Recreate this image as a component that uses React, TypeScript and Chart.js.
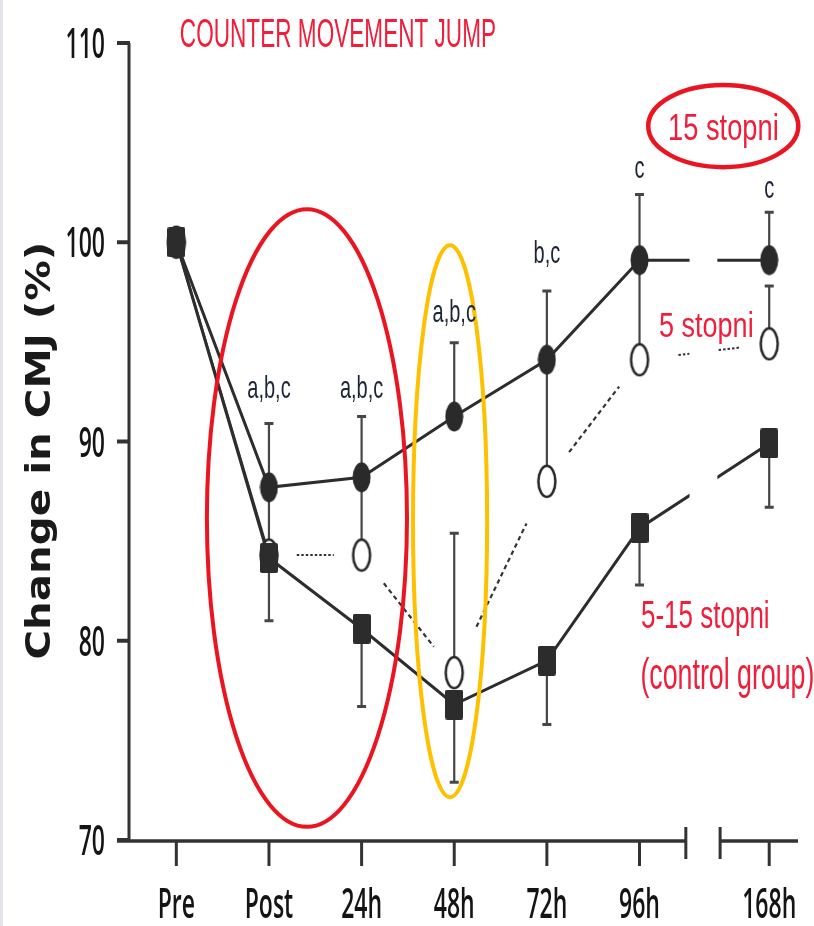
import React, { useEffect, useRef } from 'react';
import { Chart, registerables } from 'chart.js';

Chart.register(...registerables);

// ---------- data ----------
const categories = ['Pre', 'Post', '24h', '48h', '72h', '96h', '168h'];
// position of each category on the (broken) x axis
const axisPositions = [0, 1, 2, 3, 4, 5, 6.4];
const yTicks = [70, 80, 90, 100, 110];

const stopni15 = [100, 87.7, 88.2, 91.25, 94.1, 99.1, 99.1];
const stopni15ErrUp = [0, 3.2, 3.05, 3.7, 3.45, 3.3, 2.4];

const stopni5 = [100, 84.3, 84.3, 78.4, 88.0, 94.1, 94.9];
const stopni5ErrUp = [0, 3.0, 3.7, 7.0, 5.9, 4.5, 2.9];

const control = [100, 84.15, 80.6, 76.8, 79.0, 85.65, 89.9];
const controlErrDown = [0, 3.15, 3.9, 3.9, 3.2, 2.85, 3.2];

const sigLabels = ['', 'a,b,c', 'a,b,c', 'a,b,c', 'b,c', 'c', 'c'];
const sigLabelY = [0, 92.2, 92.2, 96.0, 98.95, 103.2, 102.2];

const axisBreak = [5.5, 5.87];
const dataBreak = [5.54, 5.84];

// ---------- helpers ----------
function fitText(ctx: CanvasRenderingContext2D, text: string, x: number, baseline: number, w: number, h: number,
  font: string, color: string, align: 'left' | 'center' | 'right' = 'left', rotate = 0, weight = 'normal') {
  ctx.save();
  ctx.font = `${weight} 100px ${font}`;
  const m = ctx.measureText(text);
  const inkW = m.actualBoundingBoxLeft + m.actualBoundingBoxRight;
  const sx = w / inkW;
  const sy = h / m.actualBoundingBoxAscent;
  ctx.translate(x, baseline);
  if (rotate) ctx.rotate(rotate);
  ctx.scale(sx, sy);
  ctx.fillStyle = color;
  ctx.textBaseline = 'alphabetic';
  ctx.textAlign = 'left';
  let ox = m.actualBoundingBoxLeft;
  if (align === 'center') ox = m.actualBoundingBoxLeft - inkW / 2;
  if (align === 'right') ox = m.actualBoundingBoxLeft - inkW;
  ctx.fillText(text, ox, 0);
  ctx.restore();
}

function drawStretched(ctx: CanvasRenderingContext2D, text: string, x: number, baseline: number, em: number, sy: number,
  font: string, color: string, align: CanvasTextAlign, weight = 'normal') {
  ctx.save();
  ctx.font = `${weight} ${em}px ${font}`;
  ctx.translate(x, baseline);
  ctx.scale(1, sy);
  ctx.textAlign = align;
  ctx.textBaseline = 'alphabetic';
  ctx.fillStyle = color;
  ctx.fillText(text, 0, 0);
  ctx.restore();
}

function makeCanvas(w: number, h: number, draw: (c: CanvasRenderingContext2D) => void) {
  const c = document.createElement('canvas');
  c.width = w;
  c.height = h;
  const g = c.getContext('2d')!;
  draw(g);
  return c;
}

const TITLE_FONT = '"DejaVu Sans", sans-serif';
const TICK_FONT = '"Open Sans", "DejaVu Sans", sans-serif';
const LABEL_FONT = '"Liberation Sans", Arial, sans-serif';

const chartPlugin = {
  id: 'cmjDecor',
  beforeDraw(chart: any) {
    const { ctx, width, height } = chart;
    ctx.save();
    ctx.fillStyle = '#ffffff';
    ctx.fillRect(0, 0, width, height);
    ctx.fillStyle = '#e2e4e7';
    ctx.fillRect(0, 0, 3, height);
    ctx.restore();
  },
  beforeDatasetsDraw(chart: any) {
    const { ctx, width, height } = chart;
    const xs = chart.scales.x;
    const ys = chart.scales.y;
    const b0 = xs.getPixelForValue(dataBreak[0]);
    const b1 = xs.getPixelForValue(dataBreak[1]);
    ctx.save();
    ctx.beginPath();
    ctx.rect(0, 0, b0, height);
    ctx.rect(b1, 0, width - b1, height);
    ctx.clip();

    // error bars
    const bar = (i: number, v: number, e: number, dir: number) => {
      if (!e) return;
      const x = xs.getPixelForValue(axisPositions[i]);
      const y0 = ys.getPixelForValue(v);
      const y1 = ys.getPixelForValue(v + dir * e);
      ctx.save();
      ctx.strokeStyle = '#464646';
      ctx.lineWidth = 2.2;
      ctx.beginPath();
      ctx.moveTo(x, y0);
      ctx.lineTo(x, y1);
      ctx.stroke();
      ctx.lineWidth = 3;
      ctx.beginPath();
      ctx.moveTo(x - 4.5, y1);
      ctx.lineTo(x + 4.5, y1);
      ctx.stroke();
      ctx.restore();
    };
    stopni15.forEach((v, i) => bar(i, v, stopni15ErrUp[i], 1));
    stopni5.forEach((v, i) => bar(i, v, stopni5ErrUp[i], 1));
    control.forEach((v, i) => bar(i, v, controlErrDown[i], -1));

    // 5 stopni connecting line (solid first segment, dashed partial others)
    for (let i = 0; i < stopni5.length - 1; i++) {
      const x0 = xs.getPixelForValue(axisPositions[i]);
      const y0 = ys.getPixelForValue(stopni5[i]);
      const x1 = xs.getPixelForValue(axisPositions[i + 1]);
      const y1 = ys.getPixelForValue(stopni5[i + 1]);
      ctx.save();
      ctx.strokeStyle = '#333333';
      if (i === 0) {
        ctx.lineWidth = 2.5;
        ctx.beginPath();
        ctx.moveTo(x0, y0);
        ctx.lineTo(x1, y1);
        ctx.stroke();
      } else {
        const dotted = i === 1 || i === stopni5.length - 2;
        const t0 = dotted ? 0.3 : 0.24;
        const t1 = i === 1 ? 0.7 : 0.78;
        ctx.lineWidth = dotted ? 2 : 2.2;
        ctx.setLineDash(dotted ? [2.5, 2] : [4.5, 3.5]);
        ctx.beginPath();
        ctx.moveTo(x0 + (x1 - x0) * t0, y0 + (y1 - y0) * t0);
        ctx.lineTo(x0 + (x1 - x0) * t1, y0 + (y1 - y0) * t1);
        ctx.stroke();
      }
      ctx.restore();
    }
  },
  afterDatasetsDraw(chart: any) {
    const { ctx } = chart;
    ctx.restore();
    const xs = chart.scales.x;
    const ys = chart.scales.y;
    const ell = (cx: number, cy: number, rx: number, ry: number, color: string, lw: number) => {
      const px = xs.getPixelForValue(cx);
      const py = ys.getPixelForValue(cy);
      const prx = Math.abs(xs.getPixelForValue(cx + rx) - px);
      const pry = Math.abs(ys.getPixelForValue(cy + ry) - py);
      ctx.save();
      ctx.strokeStyle = color;
      ctx.lineWidth = lw;
      ctx.beginPath();
      ctx.ellipse(px, py, prx, pry, 0, 0, Math.PI * 2);
      ctx.stroke();
      ctx.restore();
    };
    ell(1.41, 86.16, 1.08, 15.5, '#ea1520', 4);
    ell(2.955, 86.0, 0.4, 13.85, '#ffc000', 4);
    ell(5.904, 105.83, 0.81, 2.06, '#ea1520', 4.5);
  },
  afterDraw(chart: any) {
    const { ctx } = chart;
    const xs = chart.scales.x;
    const ys = chart.scales.y;
    const left = xs.getPixelForValue(xs.min);
    const right = xs.getPixelForValue(xs.max);
    const bottom = ys.getPixelForValue(70);
    const top = ys.getPixelForValue(110);
    const b0 = xs.getPixelForValue(axisBreak[0]);
    const b1 = xs.getPixelForValue(axisBreak[1]);
    ctx.save();
    ctx.strokeStyle = '#333333';
    // y axis
    ctx.lineWidth = 3;
    ctx.beginPath();
    ctx.moveTo(left - 1, top);
    ctx.lineTo(left - 1, bottom + 1);
    ctx.stroke();
    // y ticks
    ctx.lineWidth = 4;
    yTicks.forEach((t) => {
      const y = ys.getPixelForValue(t);
      ctx.beginPath();
      ctx.moveTo(left - 13, y);
      ctx.lineTo(left, y);
      ctx.stroke();
    });
    // x axis with break
    ctx.lineWidth = 3.5;
    ctx.beginPath();
    ctx.moveTo(left - 13, bottom + 1);
    ctx.lineTo(b0, bottom + 1);
    ctx.moveTo(b1, bottom + 1);
    ctx.lineTo(right + 1, bottom + 1);
    ctx.stroke();
    ctx.lineWidth = 3;
    ctx.beginPath();
    ctx.moveTo(b0, bottom - 13);
    ctx.lineTo(b0, bottom + 19);
    ctx.moveTo(b1, bottom - 13);
    ctx.lineTo(b1, bottom + 19);
    ctx.stroke();
    // x ticks
    axisPositions.forEach((p) => {
      const x = xs.getPixelForValue(p);
      ctx.beginPath();
      ctx.moveTo(x, bottom + 1);
      ctx.lineTo(x, bottom + 26);
      ctx.stroke();
    });
    ctx.restore();

    // tick labels
    yTicks.forEach((t) => {
      const y = ys.getPixelForValue(t);
      drawStretched(ctx, String(t), left - 25, y + 15, 23, 1.82, TICK_FONT, '#141414', 'right', '600');
    });
    categories.forEach((c, i) => {
      const x = xs.getPixelForValue(axisPositions[i]);
      drawStretched(ctx, c, x, bottom + 78, 23, 1.82, TICK_FONT, '#141414', 'center', '600');
    });

    // significance labels
    sigLabels.forEach((s, i) => {
      if (!s) return;
      const x = xs.getPixelForValue(axisPositions[i]);
      const y = ys.getPixelForValue(sigLabelY[i]);
      drawStretched(ctx, s, x, y, 20, 1.55, LABEL_FONT, '#1c2536', 'center');
    });

    // y axis title
    fitText(ctx, 'Change in CMJ (%)', 50, 451.5, 413, 26, TITLE_FONT, '#1a1a1a', 'center', -Math.PI / 2, 'bold');

    // red annotations
    const red = '#f01e3a';
    fitText(ctx, 'COUNTER MOVEMENT JUMP', 181, 47, 314, 29, LABEL_FONT, red, 'left');
    fitText(ctx, '15 stopni', 670, 140, 107, 27, LABEL_FONT, red, 'left');
    fitText(ctx, '5 stopni', 660, 337, 92, 25, LABEL_FONT, red, 'left');
    fitText(ctx, '5-15 stopni', 642, 628, 126, 28, LABEL_FONT, red, 'left');
    fitText(ctx, '(control group)', 642, 689, 171, 32, LABEL_FONT, red, 'left');
  },
};

export default function App() {
  const ref = useRef<HTMLCanvasElement | null>(null);

  useEffect(() => {
    const canvas = ref.current;
    if (!canvas) return;

    const filled = makeCanvas(19, 31, (g) => {
      g.fillStyle = '#2a2a2a';
      g.beginPath();
      g.ellipse(9.5, 15.5, 9, 15, 0, 0, Math.PI * 2);
      g.fill();
    });
    const open = makeCanvas(22, 35, (g) => {
      g.fillStyle = '#ffffff';
      g.strokeStyle = '#262626';
      g.lineWidth = 2.5;
      g.beginPath();
      g.ellipse(11, 17.5, 8.5, 15.5, 0, 0, Math.PI * 2);
      g.fill();
      g.stroke();
    });
    const square = makeCanvas(18, 30, (g) => {
      g.fillStyle = '#2c2c2c';
      g.beginPath();
      (g as any).roundRect(0, 0, 18, 30, 2);
      g.fill();
    });

    const toXY = (arr: number[]) => arr.map((v, i) => ({ x: axisPositions[i], y: v }));

    const chart = new Chart(canvas, {
      type: 'line',
      data: {
        datasets: [
          {
            label: '5-15 stopni (control group)',
            data: toXY(control),
            borderColor: '#2d2d2d',
            borderWidth: 3,
            pointStyle: square as any,
            pointRadius: 10,
            showLine: true,
          },
          {
            label: '15 stopni',
            data: toXY(stopni15),
            borderColor: '#2d2d2d',
            borderWidth: 3,
            pointStyle: filled as any,
            pointRadius: 10,
            showLine: true,
          },
          {
            label: '5 stopni',
            data: toXY(stopni5),
            borderColor: '#2d2d2d',
            borderWidth: 2,
            pointStyle: open as any,
            pointRadius: 10,
            showLine: false,
          },
        ],
      },
      options: {
        responsive: false,
        animation: false,
        events: [],
        layout: { padding: { top: 43, right: 17, bottom: 0, left: 0 } },
        elements: { line: { tension: 0 } },
        plugins: { legend: { display: false }, tooltip: { enabled: false } },
        scales: {
          x: {
            type: 'linear',
            min: -0.5,
            max: 6.7,
            grid: { display: false },
            border: { display: false },
            ticks: { display: false },
            afterFit: (s: any) => { s.height = 86; },
          },
          y: {
            type: 'linear',
            min: 70,
            max: 110,
            grid: { display: false },
            border: { display: false },
            ticks: { display: false, stepSize: 10 },
            afterFit: (s: any) => { s.width = 130; },
          },
        },
      },
      plugins: [chartPlugin],
    });

    return () => chart.destroy();
  }, []);

  return (
    <div style={{ position: 'fixed', left: 0, top: 0, width: 814, height: 926, background: '#fff' }}>
      <canvas ref={ref} width={814} height={926} style={{ display: 'block', width: 814, height: 926 }} />
    </div>
  );
}
